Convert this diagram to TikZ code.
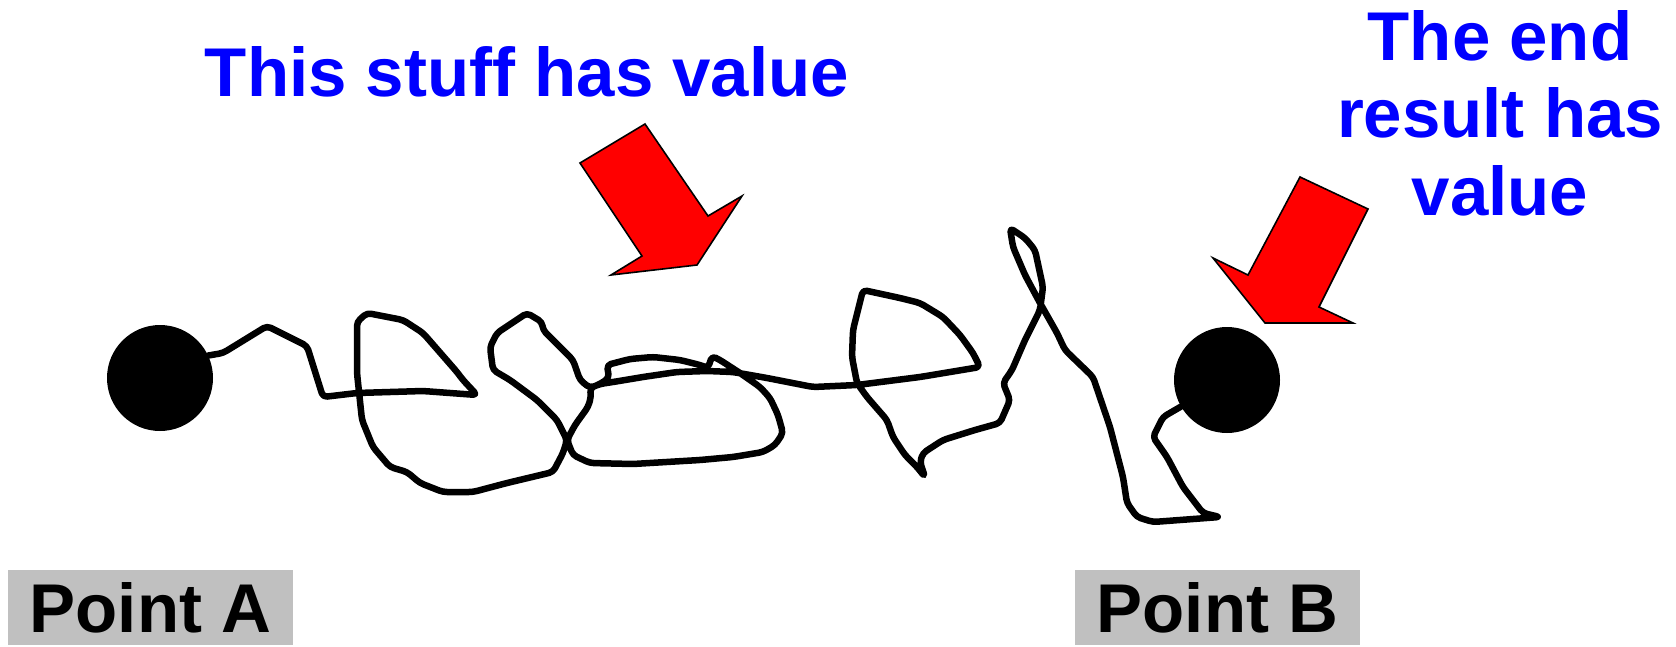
\documentclass[tikz,border=0pt]{standalone}
\usepackage{fontspec}
\setmainfont{Liberation Sans}
\definecolor{boxgray}{RGB}{192,192,192}
\begin{document}
\begin{tikzpicture}[x=1pt,y=-1pt,
  dot/.style={circle,fill=black,minimum size=106pt,inner sep=0pt},
  lbl/.style={fill=boxgray,minimum width=285pt,minimum height=75pt,inner sep=0pt,
    font=\fontsize{69}{77}\selectfont\bfseries,text height=49.4pt,text depth=0pt},
  bluetxt/.style={text=blue,inner sep=0pt,font=\fontsize{69}{77.5}\selectfont\bfseries},
  squiggle/.style={line width=6.5pt,line join=round,line cap=round,rounded corners=4pt},
  redarrow/.style={fill=red,draw=black,line width=1.6pt,line join=miter}]
\useasboundingbox (0,0) rectangle (1676,646);

% labels
\node[lbl] (lblA) at (150.5,607.5) {Point A};
\node[lbl] (lblB) at (1217.5,607.5) {Point B};

% blue texts
\node[bluetxt,anchor=base] (title) at (527,96) {This stuff has value};
\node[bluetxt,anchor=north,align=center] (endtxt) at (1500,10) {The end\\result has\\value};

% points
\node[dot] (ptA) at (160,378) {};
\node[dot] (ptB) at (1227,380) {};

% red arrows
\draw[redarrow] (580,163) -- (645,124) -- (708,216) -- (742,196) -- (697,265) -- (611,275) -- (642,256) -- cycle;
\draw[redarrow] (1300,177) -- (1368,209) -- (1319,307) -- (1353,323) -- (1265,323) -- (1213,258) -- (1248,275) -- cycle;

% squiggle
\draw[squiggle] (ptA.25) -- (223,353) -- (267,326) -- (307,346) -- (323,397) -- (357,393) -- (423,391) -- (477,395) -- (463,380) -- (457,372) -- (423,333) -- (403,320) -- (367,313) -- (357,322) -- (357,373) -- (362,420) -- (373,447) -- (390,467) -- (407,472) -- (420,483) -- (443,492) -- (473,492) -- (507,483) -- (553,472) -- (563,453) -- (567,440) -- (557,420) -- (537,400) -- (510,380) -- (493,370) -- (490,347) -- (497,333) -- (527,313) -- (542,322) -- (543,330) -- (573,360) -- (580,380) -- (590,388) -- (600,384) -- (609,378) -- (607,365) -- (630,359) -- (653,357) -- (680,360) -- (700,365) -- (708,368) -- (712,356) -- (720,360) -- (740,373) -- (760,387) -- (770,398) -- (778,415) -- (783,433) -- (775,445) -- (763,452) -- (733,457) -- (700,460) -- (633,464) -- (590,463) -- (573,455) -- (567,440) -- (575,425) -- (588,407) -- (591,397) -- (590,388) -- (600,384) -- (613,382) -- (643,377) -- (677,372) -- (707,371) -- (733,372) -- (767,378) -- (813,387) -- (857,385) -- (920,377) -- (980,367) -- (973,353) -- (960,335) -- (943,317) -- (920,303) -- (900,298) -- (863,290) -- (858,310) -- (853,330) -- (852,357) -- (857,383) -- (867,397) -- (887,420) -- (893,437) -- (905,455) -- (917,467) -- (925,477) -- (920,462) -- (923,453) -- (943,440) -- (975,430) -- (1000,423) -- (1010,400) -- (1003,383) -- (1012,370) -- (1025,340) -- (1040,310) -- (1043,287) -- (1035,250) -- (1025,238) -- (1010,228) -- (1013,247) -- (1025,275) -- (1040,303) -- (1057,333) -- (1065,350) -- (1093,377) -- (1110,427) -- (1123,477) -- (1127,503) -- (1137,517) -- (1153,522) -- (1220,517) -- (1203,513) -- (1183,487) -- (1167,457) -- (1153,437) -- (1163,417) -- (ptB.210);
\end{tikzpicture}
\end{document}
